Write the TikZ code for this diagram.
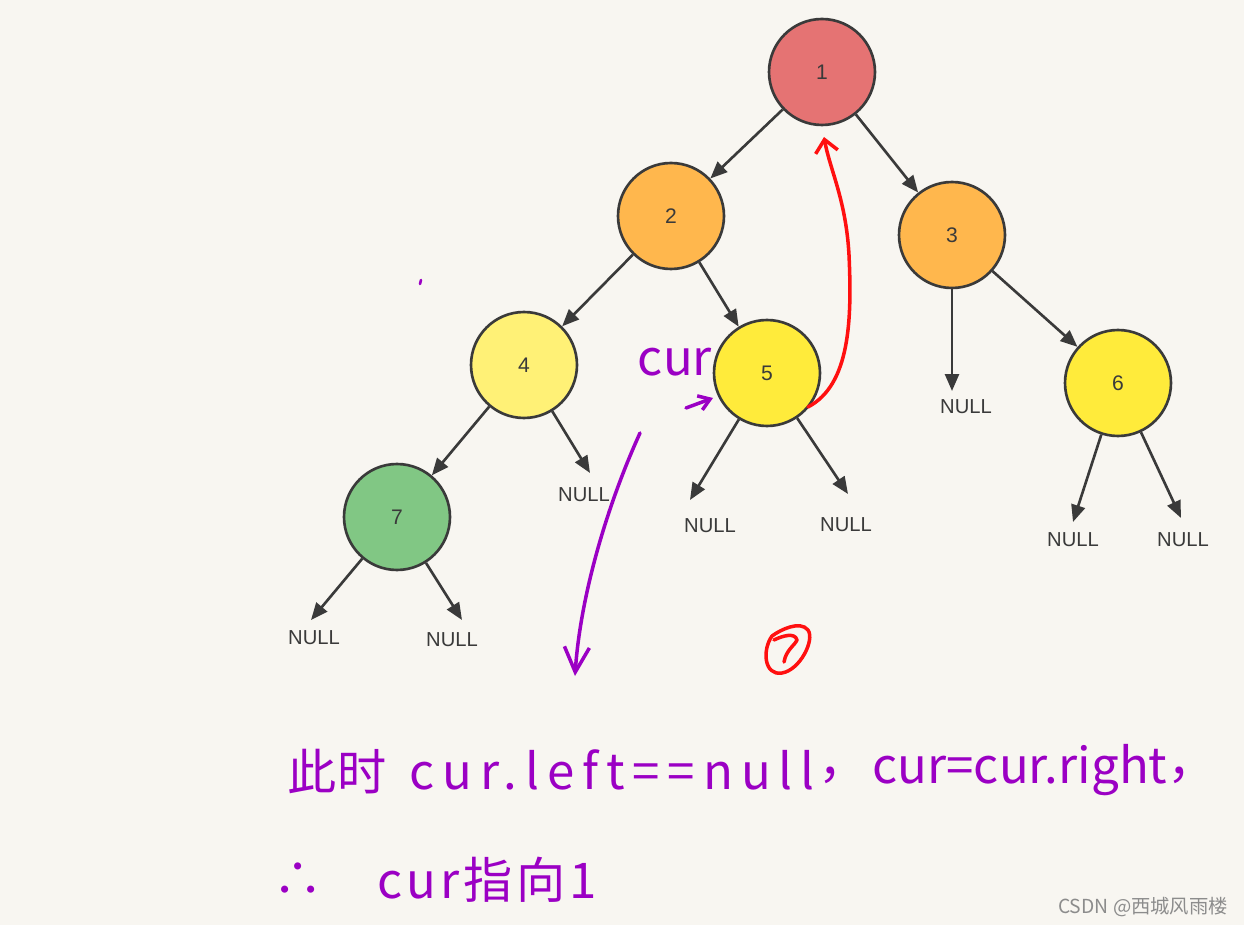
\documentclass[tikz,border=0pt]{standalone}
\usepackage{fontspec}
\setmainfont{Liberation Sans}
\newfontfamily\cjk{Noto Sans CJK SC}
\usetikzlibrary{arrows.meta}
\definecolor{bg}{HTML}{F8F6F1}
\definecolor{ink}{HTML}{3A3A3A}
\definecolor{hand}{HTML}{9B00C4}
\definecolor{pen}{HTML}{FF1010}
\definecolor{c1}{HTML}{E57373}
\definecolor{c2}{HTML}{FFB74D}
\definecolor{c4}{HTML}{FFF176}
\definecolor{c5}{HTML}{FFEB3B}
\definecolor{c7}{HTML}{81C784}
\tikzset{
  tnode/.style={circle,draw=ink,line width=1.5pt,minimum size=2.12cm,inner sep=0pt,font=\fontsize{12}{14}\selectfont,text=ink},
  edge/.style={draw=ink,line width=1.5pt,-{Triangle[length=0.34cm,width=0.28cm]}},
  nulllbl/.style={font=\fontsize{11.5}{13}\selectfont,text=ink,inner sep=0pt},
  handtxt/.style={text=hand,inner sep=0pt,font=\cjk\fontsize{28}{32}\selectfont},
  purplepen/.style={draw=hand,line width=2pt,line cap=round,line join=round},
  redpen/.style={draw=pen,line width=2pt,line cap=round,line join=round},
}
\begin{document}
\begin{tikzpicture}[x=0.02cm,y=-0.02cm]
\fill[bg] (0,0) rectangle (1244,925);
\useasboundingbox (0,0) rectangle (1244,925);
% tree nodes
\node[tnode,fill=c1] (n1) at (822,72) {1};
\node[tnode,fill=c2] (n2) at (671,216) {2};
\node[tnode,fill=c2] (n3) at (952,235) {3};
\node[tnode,fill=c4] (n4) at (524,365) {4};
\node[tnode,fill=c5] (n5) at (767,373) {5};
\node[tnode,fill=c5] (n6) at (1118,383) {6};
\node[tnode,fill=c7] (n7) at (397,517) {7};
% edges
\draw[edge] (n1) -- (n2);
\draw[edge] (n1) -- (n3);
\draw[edge] (n2) -- (n4);
\draw[edge] (n2) -- (n5);
\draw[edge] (n3) -- (n6);
\draw[edge] (n4) -- (n7);
% null tips
\coordinate (t3) at (952,391);
\coordinate (t4) at (590,473);
\coordinate (t5a) at (690,500);
\coordinate (t5b) at (848,494);
\coordinate (t6a) at (1073,522);
\coordinate (t6b) at (1181,518);
\coordinate (t7a) at (311,620);
\coordinate (t7b) at (462,620);
\draw[edge] (n3.south) -- (t3);
\draw[edge] (n4) -- (t4);
\draw[edge] (n5) -- (t5a);
\draw[edge] (n5) -- (t5b);
\draw[edge] (n6) -- (t6a);
\draw[edge] (n6) -- (t6b);
\draw[edge] (n7) -- (t7a);
\draw[edge] (n7) -- (t7b);
\node[nulllbl] (l3) at (966,407) {NULL};
\node[nulllbl] (l4) at (584,495) {NULL};
\node[nulllbl] (l5a) at (710,526) {NULL};
\node[nulllbl] (l5b) at (846,525) {NULL};
\node[nulllbl] (l6a) at (1073,540) {NULL};
\node[nulllbl] (l6b) at (1183,540) {NULL};
\node[nulllbl] (l7a) at (314,638) {NULL};
\node[nulllbl] (l7b) at (452,640) {NULL};
% handwritten annotations
\node[handtxt] (cur) at (675,362) {cur};
\coordinate (ca) at (686,408);
\coordinate (cb) at (713,398);
\draw[purplepen,-{Straight Barb[length=0.22cm,width=0.3cm]}] (ca) -- (cb);
\coordinate (pa) at (640,433);
\coordinate (pb) at (575,676);
\draw[purplepen,-{Straight Barb[length=0.5cm,width=0.5cm]}] (pa) .. controls (605,510) and (580,600) .. (pb);
\coordinate (dot1) at (421,280);
\coordinate (dot2) at (420,284);
\draw[purplepen,line width=1.5pt] (dot1) -- (dot2);
\coordinate (ra) at (808,407);
\coordinate (rm) at (849,255);
\coordinate (rb) at (824,137);
\draw[redpen,-{Straight Barb[length=0.25cm,width=0.45cm]}] (ra) .. controls (850,385) and (852,320) .. (rm) .. controls (846,200) and (830,170) .. (rb);
% red scribble
\draw[redpen] (772,636) .. controls (762,650) and (764,676) .. (782,673) .. controls (800,670) and (815,640) .. (808,630) .. controls (800,620) and (780,630) .. (772,636);
\draw[redpen] (784,662) .. controls (786,650) and (795,645) .. (797,640) .. controls (795,632) and (782,636) .. (774,640);
% bottom text
\node[handtxt] (t1a) at (337,772) {此时};
\node[handtxt] (t1b) at (612,770) {\addfontfeature{LetterSpace=16}cur.left==null};
\node[handtxt] (t1c) at (843,775) {，};
\node[handtxt] (t1d) at (1020,770) {cur=cur.right};
\node[handtxt] (t1e) at (1192,775) {，};
\node[handtxt] (t2a) at (298,880) {∴};
\node[handtxt] (t2b) at (487,880) {\addfontfeature{LetterSpace=8}cur指向1};
\node[text=black!45,inner sep=0pt,font=\cjk\fontsize{11}{12}\selectfont] (wm) at (1143,907) {CSDN @西城风雨楼};
\end{tikzpicture}
\end{document}
